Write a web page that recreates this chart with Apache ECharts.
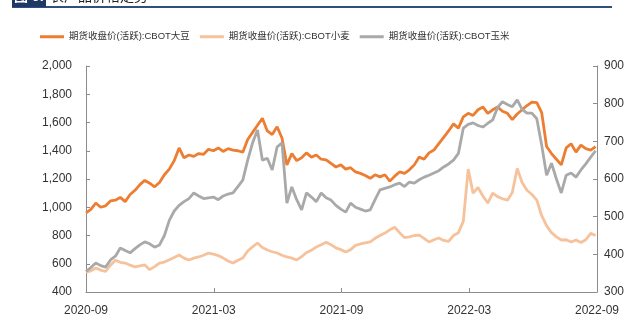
<!DOCTYPE html>
<html>
<head>
<meta charset="utf-8">
<script src="https://cdn.jsdelivr.net/npm/echarts@6/dist/echarts.min.js"></script>
<style>
html,body{margin:0;padding:0;background:#fff;}
#main{width:640px;height:329px;}
</style>
</head>
<body>
<div id="main"></div>
<script>
// Weekly observations starting 2020-09-01 (day offset = week index * 7)
const startLabel = '2020-09-01';
const xTickLabels = ['2020-09', '2021-03', '2021-09', '2022-03', '2022-09'];
const seriesNames = ['期货收盘价(活跃):CBOT大豆', '期货收盘价(活跃):CBOT小麦', '期货收盘价(活跃):CBOT玉米'];

const soybean = [960,985,1030,1000,1010,1045,1050,1070,1040,1090,1120,1160,1190,1170,1145,1175,1230,1270,1330,1420,
1350,1370,1360,1380,1375,1410,1400,1420,1395,1415,1405,1400,1390,1480,1530,1580,1630,1540,1515,1570,
1490,1300,1380,1330,1350,1385,1355,1370,1340,1335,1310,1285,1300,1270,1280,1250,1240,1225,1205,1230,
1215,1230,1185,1220,1250,1240,1265,1300,1355,1340,1385,1405,1450,1495,1540,1590,1560,1640,1665,1650,
1690,1710,1665,1690,1710,1680,1665,1620,1660,1690,1720,1745,1740,1670,1430,1380,1340,1300,1420,1450,
1390,1440,1415,1405,1430];

const wheat = [540,550,570,555,545,590,625,610,605,590,578,585,592,558,580,605,612,628,645,662,
640,627,640,648,660,676,668,658,640,620,605,625,641,690,720,747,715,697,685,676,
660,648,640,627,650,680,695,719,735,752,735,712,700,683,700,730,740,748,755,780,
800,817,840,858,820,785,790,800,803,780,754,770,782,765,758,800,820,900,1270,1100,
1140,1080,1030,1100,1075,1060,1050,1105,1275,1175,1120,1090,1050,940,870,820,790,768,770,754,
768,750,770,815,800];

const corn = [355,365,377,370,366,385,395,417,410,404,415,425,433,428,419,425,450,490,515,530,
540,548,563,555,548,550,552,545,555,560,563,580,597,650,696,730,650,655,624,685,
696,536,579,545,518,563,552,540,563,550,544,530,520,512,536,525,520,515,518,545,
571,575,579,585,589,580,592,589,598,605,610,616,622,632,640,650,668,735,745,749,
742,738,748,757,790,805,798,792,810,785,775,775,760,690,610,642,600,563,610,616,
605,624,640,658,675];

function toPairs(arr){ return arr.map((v,i)=>[i*7, v]); }

const chart = echarts.init(document.getElementById('main'), null, {renderer:'canvas'});
const fontFam = '"Liberation Sans", Arial, "Noto Sans CJK SC", sans-serif';
const axisColor = '#8c8c8c';
chart.setOption({
  animation:false,
  backgroundColor:'#fff',
  textStyle:{fontFamily:fontFam},
  graphic:[
    {type:'rect', left:12, top:6, shape:{width:600,height:2}, style:{fill:'#2f4f7f'}},
    {type:'rect', left:12, top:0, shape:{width:34,height:7}, style:{fill:'#1f3864'}},
    {type:'text', left:14, top:-11, style:{text:'图 6:', fill:'#fff', font:'bold 14px "Noto Sans CJK SC"'}},
    {type:'text', left:50, top:-11, style:{text:'农产品价格走势', fill:'#222', font:'14px "Noto Sans CJK SC"'}}
  ],
  legend:{
    left:40, top:32, padding:0, itemWidth:24, itemHeight:3, itemGap:10,
    icon:'rect',
    textStyle:{fontSize:9.5, color:'#333', fontFamily:'"Liberation Sans", "Noto Sans CJK SC", sans-serif'},
    data:seriesNames
  },
  grid:{left:86, right:43, top:66, bottom:37, containLabel:false},
  xAxis:{
    type:'value', min:0, max:730, interval:182.5,
    axisLine:{lineStyle:{color:axisColor, width:1}},
    axisTick:{show:true, inside:true, length:4, lineStyle:{color:axisColor}},
    splitLine:{show:false},
    axisLabel:{color:'#333', fontSize:12, margin:13,
      formatter:function(v){ return xTickLabels[Math.round(v/182.5)] || ''; }}
  },
  yAxis:[
    {type:'value', min:400, max:2000, interval:200, position:'left',
     axisLine:{show:true, lineStyle:{color:axisColor}},
     axisTick:{show:true, inside:true, length:4, lineStyle:{color:axisColor}},
     splitLine:{show:false},
     axisLabel:{color:'#333', fontSize:12, margin:14,
       formatter:function(v){ return v.toLocaleString('en-US'); }}},
    {type:'value', min:300, max:900, interval:100, position:'right',
     axisLine:{show:true, lineStyle:{color:axisColor}},
     axisTick:{show:true, inside:true, length:4, lineStyle:{color:axisColor}},
     splitLine:{show:false},
     axisLabel:{color:'#333', fontSize:12, margin:7}}
  ],
  series:[
    {name:seriesNames[0], type:'line', yAxisIndex:0, data:toPairs(soybean), showSymbol:false, symbol:'none',
     lineStyle:{color:'#ED7D31', width:2.8}, itemStyle:{color:'#ED7D31'}},
    {name:seriesNames[1], type:'line', yAxisIndex:0, data:toPairs(wheat), showSymbol:false, symbol:'none',
     lineStyle:{color:'#F6C29C', width:2.8}, itemStyle:{color:'#F6C29C'}},
    {name:seriesNames[2], type:'line', yAxisIndex:1, data:toPairs(corn), showSymbol:false, symbol:'none',
     lineStyle:{color:'#A9A9A9', width:2.8}, itemStyle:{color:'#A9A9A9'}}
  ]
});
</script>
</body>
</html>
